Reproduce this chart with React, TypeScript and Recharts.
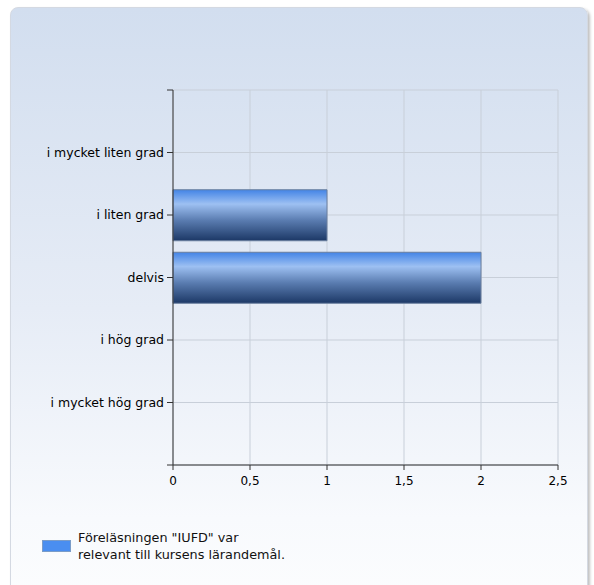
import React from "react";
import { BarChart, Bar, XAxis, YAxis, CartesianGrid } from "recharts";

const categories = ["i mycket liten grad", "i liten grad", "delvis", "i hög grad", "i mycket hög grad"];
const values = [0, 1, 2, 0, 0];
const xTicks = [0, 0.5, 1, 1.5, 2, 2.5];
const seriesName = "Föreläsningen \"IUFD\" var relevant till kursens lärandemål.";
const legendLines = ["Föreläsningen \"IUFD\" var", "relevant till kursens lärandemål."];

const n = categories.length;
const data = categories.map((c, i) => ({ pos: n - i, name: c, value: values[i] }));
const yTicks = [0, 1, 2, 3, 4, 5, 6];

const font = "'DejaVu Sans', Verdana, sans-serif";

export default function App() {
  return (
    <div style={{ position: "absolute", left: 0, top: 0, width: 594, height: 585, overflow: "hidden", background: "#fff", fontFamily: font }}>
      <div
        style={{
          position: "absolute",
          left: 10,
          top: 7,
          width: 576,
          height: 600,
          borderRadius: 8,
          border: "1px solid #d4d9e2",
          boxShadow: "2px 2px 3px rgba(0,0,0,0.25)",
          background: "linear-gradient(to bottom, #d2deef 0%, #e6ecf6 50%, #f8fafd 85%, #fcfdfe 100%)",
        }}
      />
      <div style={{ position: "absolute", left: 0, top: 0 }}>
        <BarChart
          width={594}
          height={520}
          data={data}
          layout="vertical"
          margin={{ top: 90, right: 36, bottom: 0, left: 10 }}
        >
          <defs>
            <linearGradient id="barGrad" x1="0" y1="0" x2="0" y2="1">
              <stop offset="0%" stopColor="#4384e6" />
              <stop offset="28%" stopColor="#9dc0f2" />
              <stop offset="60%" stopColor="#5a7cb0" />
              <stop offset="100%" stopColor="#1c3866" />
            </linearGradient>
          </defs>
          <CartesianGrid stroke="#c8cfd9" strokeWidth={1} horizontal vertical />
          <XAxis
            type="number"
            domain={[0, 2.5]}
            ticks={xTicks}
            tickFormatter={(v: number) => String(v).replace(".", ",")}
            tick={{ fill: "#000", fontSize: 12, fontFamily: font }}
            tickLine={{ stroke: "#333" }}
            axisLine={{ stroke: "#333" }}
            tickSize={5}
            tickMargin={6}
            height={55}
            interval={0}
          />
          <YAxis
            type="number"
            dataKey="pos"
            domain={[0, 6]}
            ticks={yTicks}
            reversed
            interval={0}
            tickFormatter={(v: number) => (v >= 1 && v <= n ? categories[n - v] : "")}
            tick={{ fill: "#000", fontSize: 12.5, fontFamily: font }}
            tickLine={{ stroke: "#333" }}
            axisLine={{ stroke: "#333" }}
            tickSize={6}
            tickMargin={3}
            width={163}
          />
          <Bar
            dataKey="value"
            name={seriesName}
            barSize={51}
            fill="url(#barGrad)"
            stroke="#6a7f9e"
            strokeWidth={1}
            isAnimationActive={false}
          />
        </BarChart>
      </div>
      <div style={{ position: "absolute", left: 42, top: 540, width: 29, height: 12, background: "#4a8ef0", border: "1px solid #7a9cc8", boxSizing: "border-box" }} />
      <div style={{ position: "absolute", left: 78, top: 529, fontSize: 12.8, lineHeight: "17px", color: "#111", fontFamily: font }}>
        {legendLines.map((l, i) => (
          <div key={i}>{l}</div>
        ))}
      </div>
    </div>
  );
}
